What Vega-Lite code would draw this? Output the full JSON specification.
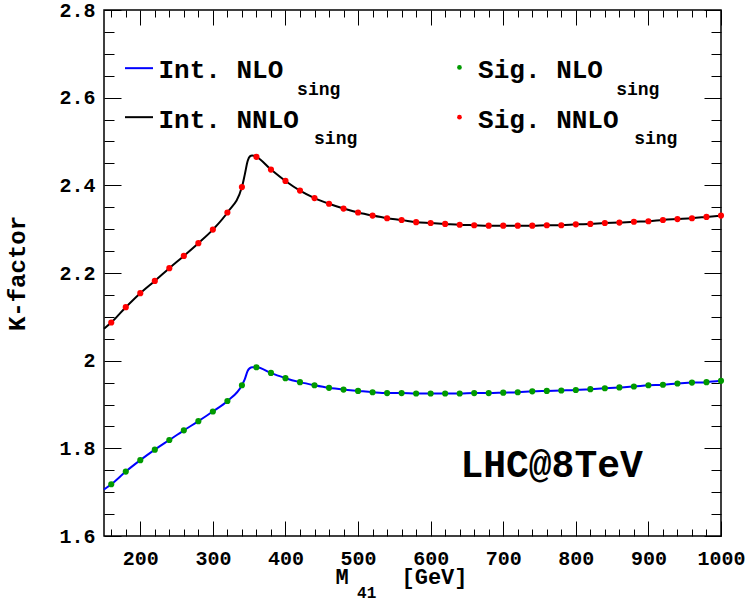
{
  "$schema": "https://vega.github.io/schema/vega-lite/v6.json",
  "autosize": "none",
  "width": 617,
  "height": 526,
  "padding": {"left": 104, "top": 10, "right": 24, "bottom": 66},
  "background": "white",
  "config": {
    "view": {"stroke": "black", "strokeWidth": 1.5},
    "axis": {
      "labelFont": "Liberation Mono",
      "labelFontSize": 20,
      "labelFontWeight": "bold",
      "labelColor": "black",
      "labelFlush": false,
      "labelOverlap": false,
      "domain": false,
      "ticks": false,
      "titleFont": "Liberation Mono",
      "titleFontWeight": "bold",
      "titleColor": "black"
    },
    "text": {"font": "Liberation Mono", "fontWeight": "bold", "color": "black", "align": "left", "baseline": "alphabetic"}
  },
  "datasets": {
    "int": [
      {"m": 150, "nlo": 1.706, "nnlo": 2.073},
      {"m": 160, "nlo": 1.718, "nnlo": 2.087},
      {"m": 180, "nlo": 1.747, "nnlo": 2.122},
      {"m": 200, "nlo": 1.773, "nnlo": 2.154},
      {"m": 220, "nlo": 1.797, "nnlo": 2.182},
      {"m": 240, "nlo": 1.819, "nnlo": 2.211},
      {"m": 260, "nlo": 1.841, "nnlo": 2.239},
      {"m": 280, "nlo": 1.862, "nnlo": 2.268},
      {"m": 300, "nlo": 1.884, "nnlo": 2.299},
      {"m": 320, "nlo": 1.908, "nnlo": 2.338},
      {"m": 340, "nlo": 1.944, "nnlo": 2.396},
      {"m": 344, "nlo": 1.958, "nnlo": 2.425},
      {"m": 348, "nlo": 1.977, "nnlo": 2.456},
      {"m": 351, "nlo": 1.983, "nnlo": 2.466},
      {"m": 354, "nlo": 1.985, "nnlo": 2.468},
      {"m": 360, "nlo": 1.985, "nnlo": 2.465},
      {"m": 380, "nlo": 1.972, "nnlo": 2.436},
      {"m": 400, "nlo": 1.960, "nnlo": 2.410},
      {"m": 420, "nlo": 1.951, "nnlo": 2.388},
      {"m": 440, "nlo": 1.944, "nnlo": 2.371},
      {"m": 460, "nlo": 1.938, "nnlo": 2.358},
      {"m": 480, "nlo": 1.934, "nnlo": 2.347},
      {"m": 500, "nlo": 1.931, "nnlo": 2.338},
      {"m": 520, "nlo": 1.928, "nnlo": 2.331},
      {"m": 540, "nlo": 1.926, "nnlo": 2.325},
      {"m": 560, "nlo": 1.926, "nnlo": 2.321},
      {"m": 580, "nlo": 1.925, "nnlo": 2.316},
      {"m": 600, "nlo": 1.925, "nnlo": 2.314},
      {"m": 620, "nlo": 1.925, "nnlo": 2.312},
      {"m": 640, "nlo": 1.925, "nnlo": 2.310},
      {"m": 660, "nlo": 1.926, "nnlo": 2.309},
      {"m": 680, "nlo": 1.926, "nnlo": 2.308},
      {"m": 700, "nlo": 1.927, "nnlo": 2.308},
      {"m": 720, "nlo": 1.928, "nnlo": 2.308},
      {"m": 740, "nlo": 1.930, "nnlo": 2.308},
      {"m": 760, "nlo": 1.931, "nnlo": 2.309},
      {"m": 780, "nlo": 1.932, "nnlo": 2.309},
      {"m": 800, "nlo": 1.933, "nnlo": 2.311},
      {"m": 820, "nlo": 1.935, "nnlo": 2.312},
      {"m": 840, "nlo": 1.937, "nnlo": 2.314},
      {"m": 860, "nlo": 1.939, "nnlo": 2.315},
      {"m": 880, "nlo": 1.941, "nnlo": 2.317},
      {"m": 900, "nlo": 1.944, "nnlo": 2.318},
      {"m": 920, "nlo": 1.945, "nnlo": 2.321},
      {"m": 940, "nlo": 1.948, "nnlo": 2.323},
      {"m": 960, "nlo": 1.950, "nnlo": 2.325},
      {"m": 980, "nlo": 1.951, "nnlo": 2.328},
      {"m": 1000, "nlo": 1.954, "nnlo": 2.331}
    ],
    "sig": [
      {"m": 160, "nlo": 1.718, "nnlo": 2.087},
      {"m": 180, "nlo": 1.747, "nnlo": 2.122},
      {"m": 200, "nlo": 1.773, "nnlo": 2.154},
      {"m": 220, "nlo": 1.797, "nnlo": 2.182},
      {"m": 240, "nlo": 1.819, "nnlo": 2.211},
      {"m": 260, "nlo": 1.841, "nnlo": 2.239},
      {"m": 280, "nlo": 1.862, "nnlo": 2.268},
      {"m": 300, "nlo": 1.884, "nnlo": 2.299},
      {"m": 320, "nlo": 1.908, "nnlo": 2.338},
      {"m": 340, "nlo": 1.944, "nnlo": 2.396},
      {"m": 360, "nlo": 1.985, "nnlo": 2.465},
      {"m": 380, "nlo": 1.972, "nnlo": 2.436},
      {"m": 400, "nlo": 1.960, "nnlo": 2.410},
      {"m": 420, "nlo": 1.951, "nnlo": 2.388},
      {"m": 440, "nlo": 1.944, "nnlo": 2.371},
      {"m": 460, "nlo": 1.938, "nnlo": 2.358},
      {"m": 480, "nlo": 1.934, "nnlo": 2.347},
      {"m": 500, "nlo": 1.931, "nnlo": 2.338},
      {"m": 520, "nlo": 1.928, "nnlo": 2.331},
      {"m": 540, "nlo": 1.926, "nnlo": 2.325},
      {"m": 560, "nlo": 1.926, "nnlo": 2.321},
      {"m": 580, "nlo": 1.925, "nnlo": 2.316},
      {"m": 600, "nlo": 1.925, "nnlo": 2.314},
      {"m": 620, "nlo": 1.925, "nnlo": 2.312},
      {"m": 640, "nlo": 1.925, "nnlo": 2.310},
      {"m": 660, "nlo": 1.926, "nnlo": 2.309},
      {"m": 680, "nlo": 1.926, "nnlo": 2.308},
      {"m": 700, "nlo": 1.927, "nnlo": 2.308},
      {"m": 720, "nlo": 1.928, "nnlo": 2.308},
      {"m": 740, "nlo": 1.930, "nnlo": 2.308},
      {"m": 760, "nlo": 1.931, "nnlo": 2.309},
      {"m": 780, "nlo": 1.932, "nnlo": 2.309},
      {"m": 800, "nlo": 1.933, "nnlo": 2.311},
      {"m": 820, "nlo": 1.935, "nnlo": 2.312},
      {"m": 840, "nlo": 1.937, "nnlo": 2.314},
      {"m": 860, "nlo": 1.939, "nnlo": 2.315},
      {"m": 880, "nlo": 1.941, "nnlo": 2.317},
      {"m": 900, "nlo": 1.944, "nnlo": 2.318},
      {"m": 920, "nlo": 1.945, "nnlo": 2.321},
      {"m": 940, "nlo": 1.948, "nnlo": 2.323},
      {"m": 960, "nlo": 1.950, "nnlo": 2.325},
      {"m": 980, "nlo": 1.951, "nnlo": 2.328},
      {"m": 1000, "nlo": 1.954, "nnlo": 2.331}
    ],
    "one": [{}]
  },
  "layer": [
    {
      "data": {"name": "int"},
      "mark": {"type": "line", "color": "#0000ff", "strokeWidth": 2, "interpolate": "monotone"},
      "encoding": {
        "x": {"field": "m", "type": "quantitative", "scale": {"domain": [150, 1000], "nice": false, "zero": false},
          "axis": {"orient": "bottom", "tickCount": 200,
            "values": [160, 180, 200, 220, 240, 260, 280, 300, 320, 340, 360, 380, 400, 420, 440, 460, 480, 500, 520, 540, 560, 580, 600, 620, 640, 660, 680, 700, 720, 740, 760, 780, 800, 820, 840, 860, 880, 900, 920, 940, 960, 980, 1000],
            "format": "d", "labelExpr": "datum.value % 100 === 0 ? datum.label : ''", "labelPadding": 12,
            "grid": true, "gridColor": "black", "gridWidth": 1, "gridOpacity": 1,
            "gridDash": {"condition": {"test": "datum.value % 100 === 0", "value": [15, 496]}, "value": [7, 512]},
            "title": "M\u00a0\u00a0\u00a0\u00a0[GeV]", "titleFontSize": 22, "titleAnchor": null, "titleX": 231, "titleY": 47, "titleAlign": "left", "titleBaseline": "alphabetic"}},
        "y": {"field": "nlo", "type": "quantitative", "scale": {"domain": [1.6, 2.8], "nice": false, "zero": false},
          "axis": {"orient": "left", "tickCount": 200,
            "values": [1.6, 1.65, 1.7, 1.75, 1.8, 1.85, 1.9, 1.95, 2, 2.05, 2.1, 2.15, 2.2, 2.25, 2.3, 2.35, 2.4, 2.45, 2.5, 2.55, 2.6, 2.65, 2.7, 2.75, 2.8],
            "format": ".1~f", "labelExpr": "abs(datum.value * 5 - round(datum.value * 5)) < 0.001 ? datum.label : ''", "labelPadding": 9,
            "grid": true, "gridColor": "black", "gridWidth": 1, "gridOpacity": 1,
            "gridDash": {"condition": {"test": "abs(datum.value * 5 - round(datum.value * 5)) < 0.001", "value": [17, 583]}, "value": [10, 597]},
            "title": "K-factor", "titleFontSize": 24, "titleAnchor": null, "titleX": -87, "titleY": 263, "titleAngle": -90, "titleAlign": "center", "titleBaseline": "middle"}}
      }
    },
    {
      "data": {"name": "int"},
      "mark": {"type": "line", "color": "black", "strokeWidth": 2, "interpolate": "monotone"},
      "encoding": {
        "x": {"field": "m", "type": "quantitative"},
        "y": {"field": "nnlo", "type": "quantitative"}
      }
    },
    {
      "data": {"name": "sig"},
      "mark": {"type": "point", "filled": true, "color": "#009a00", "size": 38, "opacity": 1, "shape": "circle"},
      "encoding": {
        "x": {"field": "m", "type": "quantitative"},
        "y": {"field": "nlo", "type": "quantitative"}
      }
    },
    {
      "data": {"name": "sig"},
      "mark": {"type": "point", "filled": true, "color": "#ff0000", "size": 38, "opacity": 1, "shape": "circle"},
      "encoding": {
        "x": {"field": "m", "type": "quantitative"},
        "y": {"field": "nnlo", "type": "quantitative"}
      }
    },
    {
      "data": {"name": "one"},
      "mark": {"type": "rule", "color": "#0000ff", "strokeWidth": 2},
      "encoding": {"x": {"datum": 178.9, "type": "quantitative"}, "x2": {"datum": 217.5}, "y": {"datum": 2.6673, "type": "quantitative"}}
    },
    {
      "data": {"name": "one"},
      "mark": {"type": "rule", "color": "black", "strokeWidth": 2},
      "encoding": {"x": {"datum": 178.9, "type": "quantitative"}, "x2": {"datum": 217.5}, "y": {"datum": 2.5555, "type": "quantitative"}}
    },
    {
      "data": {"name": "one"},
      "mark": {"type": "point", "filled": true, "color": "#009a00", "size": 22, "opacity": 1, "shape": "circle"},
      "encoding": {"x": {"datum": 639.7, "type": "quantitative"}, "y": {"datum": 2.6689, "type": "quantitative"}}
    },
    {
      "data": {"name": "one"},
      "mark": {"type": "point", "filled": true, "color": "#ff0000", "size": 22, "opacity": 1, "shape": "circle"},
      "encoding": {"x": {"datum": 639.7, "type": "quantitative"}, "y": {"datum": 2.5555, "type": "quantitative"}}
    },
    {
      "data": {"name": "one"},
      "mark": {"type": "text", "text": "Int. NLO", "fontSize": 26},
      "encoding": {"x": {"datum": 225, "type": "quantitative"}, "y": {"datum": 2.6438, "type": "quantitative"}}
    },
    {
      "data": {"name": "one"},
      "mark": {"type": "text", "text": "sing", "fontSize": 18},
      "encoding": {"x": {"datum": 416, "type": "quantitative"}, "y": {"datum": 2.6066, "type": "quantitative"}}
    },
    {
      "data": {"name": "one"},
      "mark": {"type": "text", "text": "Int. NNLO", "fontSize": 26},
      "encoding": {"x": {"datum": 225, "type": "quantitative"}, "y": {"datum": 2.5314, "type": "quantitative"}}
    },
    {
      "data": {"name": "one"},
      "mark": {"type": "text", "text": "sing", "fontSize": 18},
      "encoding": {"x": {"datum": 439.4, "type": "quantitative"}, "y": {"datum": 2.4933, "type": "quantitative"}}
    },
    {
      "data": {"name": "one"},
      "mark": {"type": "text", "text": "Sig. NLO", "fontSize": 26},
      "encoding": {"x": {"datum": 665.4, "type": "quantitative"}, "y": {"datum": 2.6438, "type": "quantitative"}}
    },
    {
      "data": {"name": "one"},
      "mark": {"type": "text", "text": "sing", "fontSize": 18},
      "encoding": {"x": {"datum": 855.6, "type": "quantitative"}, "y": {"datum": 2.6066, "type": "quantitative"}}
    },
    {
      "data": {"name": "one"},
      "mark": {"type": "text", "text": "Sig. NNLO", "fontSize": 26},
      "encoding": {"x": {"datum": 665.4, "type": "quantitative"}, "y": {"datum": 2.5314, "type": "quantitative"}}
    },
    {
      "data": {"name": "one"},
      "mark": {"type": "text", "text": "sing", "fontSize": 18},
      "encoding": {"x": {"datum": 880.4, "type": "quantitative"}, "y": {"datum": 2.4933, "type": "quantitative"}}
    },
    {
      "data": {"name": "one"},
      "mark": {"type": "text", "text": "LHC@8TeV", "fontSize": 38},
      "encoding": {"x": {"datum": 641, "type": "quantitative"}, "y": {"datum": 1.734, "type": "quantitative"}}
    },
    {
      "data": {"name": "one"},
      "mark": {"type": "text", "text": "41", "fontSize": 16},
      "encoding": {"x": {"datum": 498.7, "type": "quantitative"}, "y": {"datum": 1.4579, "type": "quantitative"}}
    }
  ]
}
